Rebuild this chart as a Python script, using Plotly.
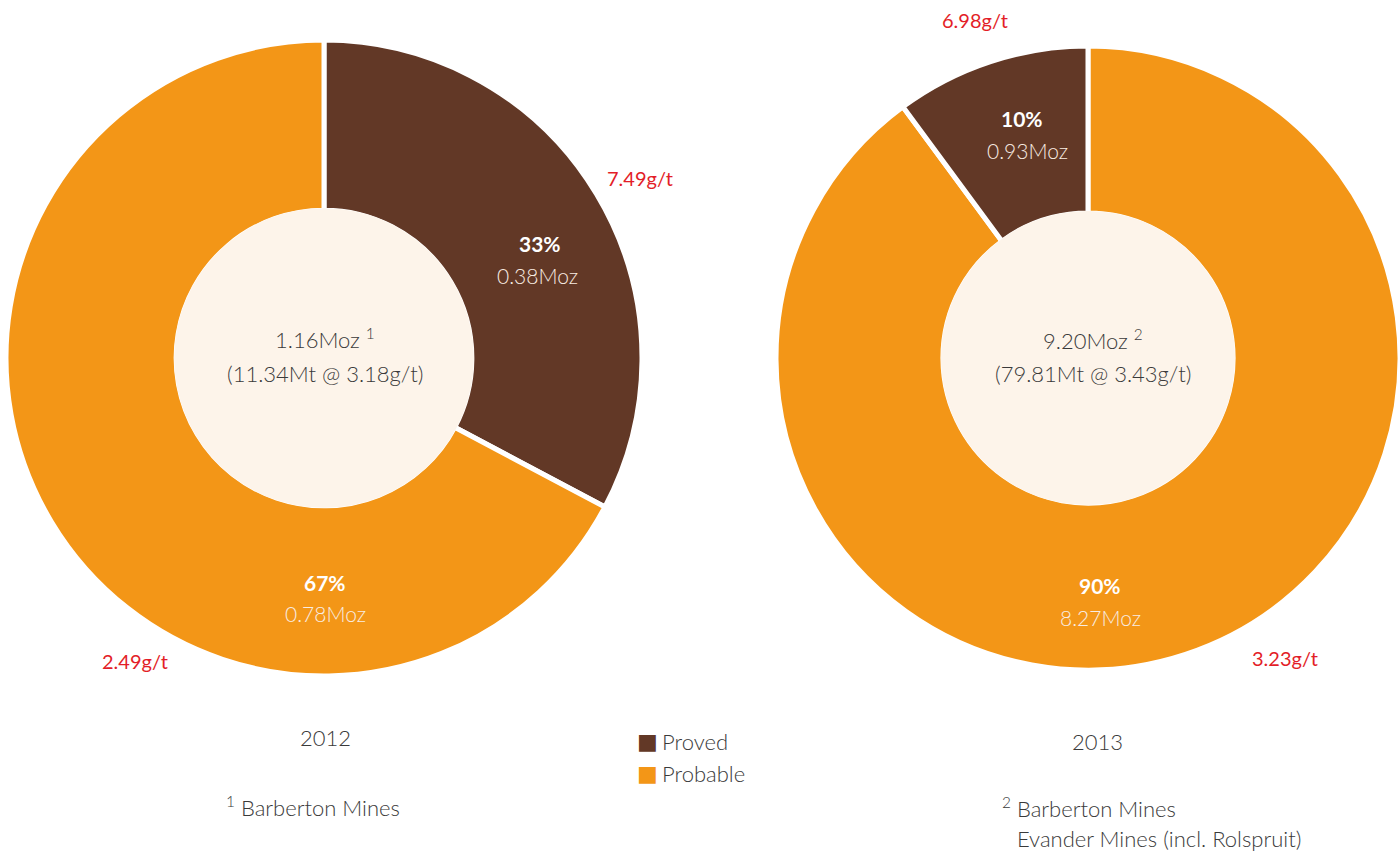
import plotly.graph_objects as go

# Gold Mineral Reserves split by category
categories = ["Proved", "Probable"]
years = ["2012", "2013"]
moz_2012 = [0.38, 0.78]
moz_2013 = [0.93, 8.27]
grade_2012 = [7.49, 2.49]
grade_2013 = [6.98, 3.23]
tonnes_mt = [11.34, 79.81]
total_grade = [3.18, 3.43]
footnotes = [["Barberton Mines"], ["Barberton Mines", "Evander Mines (incl. Rolspruit)"]]

BROWN = "#623826"
ORANGE = "#F39617"
CREAM = "#FDF4EA"
RED = "#E31E28"
GREY = "#3A3A3A"
SOFT_WHITE = "#F8ECE2"
FONT = "Lato"

W, H = 1400, 855
HOLE = 0.465
COLOR_OF = dict(zip(categories, [BROWN, ORANGE]))


def px(x, y):
    return x / W, 1 - y / H


def domain(cx, cy, r):
    return dict(x=[max(cx - r, 0) / W, min(cx + r, W) / W],
                y=[1 - (cy + r) / H, 1 - (cy - r) / H])


fig = go.Figure()

# 2012: Proved runs clockwise from 12 o'clock; 2013: Proved sits just left of 12 o'clock
donuts = [
    dict(labels=categories, values=moz_2012, cx=324, cy=358, r=318),
    dict(labels=categories[::-1], values=moz_2013[::-1], cx=1088, cy=358, r=312),
]

for d in donuts:
    fig.add_trace(go.Pie(
        labels=d["labels"],
        values=d["values"],
        sort=False,
        direction="clockwise",
        rotation=0,
        hole=HOLE,
        marker=dict(colors=[COLOR_OF[l] for l in d["labels"]],
                    line=dict(color="white", width=5)),
        textinfo="none",
        hoverinfo="label+value+percent",
        showlegend=False,
        domain=domain(d["cx"], d["cy"], d["r"]),
    ))
    # cream centre disk
    fig.add_trace(go.Pie(
        labels=["centre"],
        values=[1],
        marker=dict(colors=[CREAM], line=dict(width=0)),
        textinfo="none",
        hoverinfo="skip",
        showlegend=False,
        domain=domain(d["cx"], d["cy"], d["r"] * HOLE + 2),
    ))

annotations = []


def add(text, x, y, size=22, color=GREY, weight=300, xanchor="center", family=FONT):
    ax, ay = px(x, y)
    annotations.append(dict(
        text=text, x=ax, y=ay, xref="paper", yref="paper",
        xanchor=xanchor, yanchor="middle", showarrow=False,
        font=dict(family=family, size=size, color=color, weight=weight),
    ))


def pct(v, vals):
    return f"{round(100 * v / sum(vals))}%"


# 2012
tot12 = sum(moz_2012)
add(pct(moz_2012[0], moz_2012), 540, 243, size=21, color="white", weight=700)
add(f"{moz_2012[0]:.2f}Moz", 537, 275, size=21, color=SOFT_WHITE)
add(pct(moz_2012[1], moz_2012), 325, 582, size=21, color="white", weight=700)
add(f"{moz_2012[1]:.2f}Moz", 325, 613, size=21, color=SOFT_WHITE)
add(f"{tot12:.2f}Moz <sup>1</sup>", 325, 338, size=22)
add(f"({tonnes_mt[0]:.2f}Mt @ {total_grade[0]:.2f}g/t)", 325, 373, size=22)
add(f"{grade_2012[0]:.2f}g/t", 640, 178, size=20, color=RED, weight=400)
add(f"{grade_2012[1]:.2f}g/t", 135, 661, size=20, color=RED, weight=400)
add(years[0], 325, 737, size=22)
add(f"<sup>1</sup> {footnotes[0][0]}", 224, 806, size=22, xanchor="left")

# 2013
tot13 = sum(moz_2013)
add(pct(moz_2013[0], moz_2013), 1022, 118, size=21, color="white", weight=700)
add(f"{moz_2013[0]:.2f}Moz", 1027, 150, size=21, color=SOFT_WHITE)
add(pct(moz_2013[1], moz_2013), 1100, 585, size=21, color="white", weight=700)
add(f"{moz_2013[1]:.2f}Moz", 1100, 617, size=21, color=SOFT_WHITE)
add(f"{tot13:.2f}Moz <sup>2</sup>", 1093, 339, size=22)
add(f"({tonnes_mt[1]:.2f}Mt @ {total_grade[1]:.2f}g/t)", 1093, 374, size=22)
add(f"{grade_2013[0]:.2f}g/t", 975, 20, size=20, color=RED, weight=400)
add(f"{grade_2013[1]:.2f}g/t", 1285, 658, size=20, color=RED, weight=400)
add(years[1], 1097, 741, size=22)
add(f"<sup>2</sup> {footnotes[1][0]}", 1000, 807, size=22, xanchor="left")
add(footnotes[1][1], 1015, 838, size=22, xanchor="left")

# legend keys
for i, cat in enumerate(categories):
    y = 741 + 32 * i
    add("■", 647, y, size=22, color=COLOR_OF[cat], weight=400, family="DejaVu Sans")
    add(cat, 660, y, size=22, xanchor="left")

fig.update_layout(
    width=W, height=H,
    margin=dict(l=0, r=0, t=0, b=0),
    paper_bgcolor="white",
    plot_bgcolor="white",
    annotations=annotations,
    showlegend=False,
)

fig.write_html("out.html")
